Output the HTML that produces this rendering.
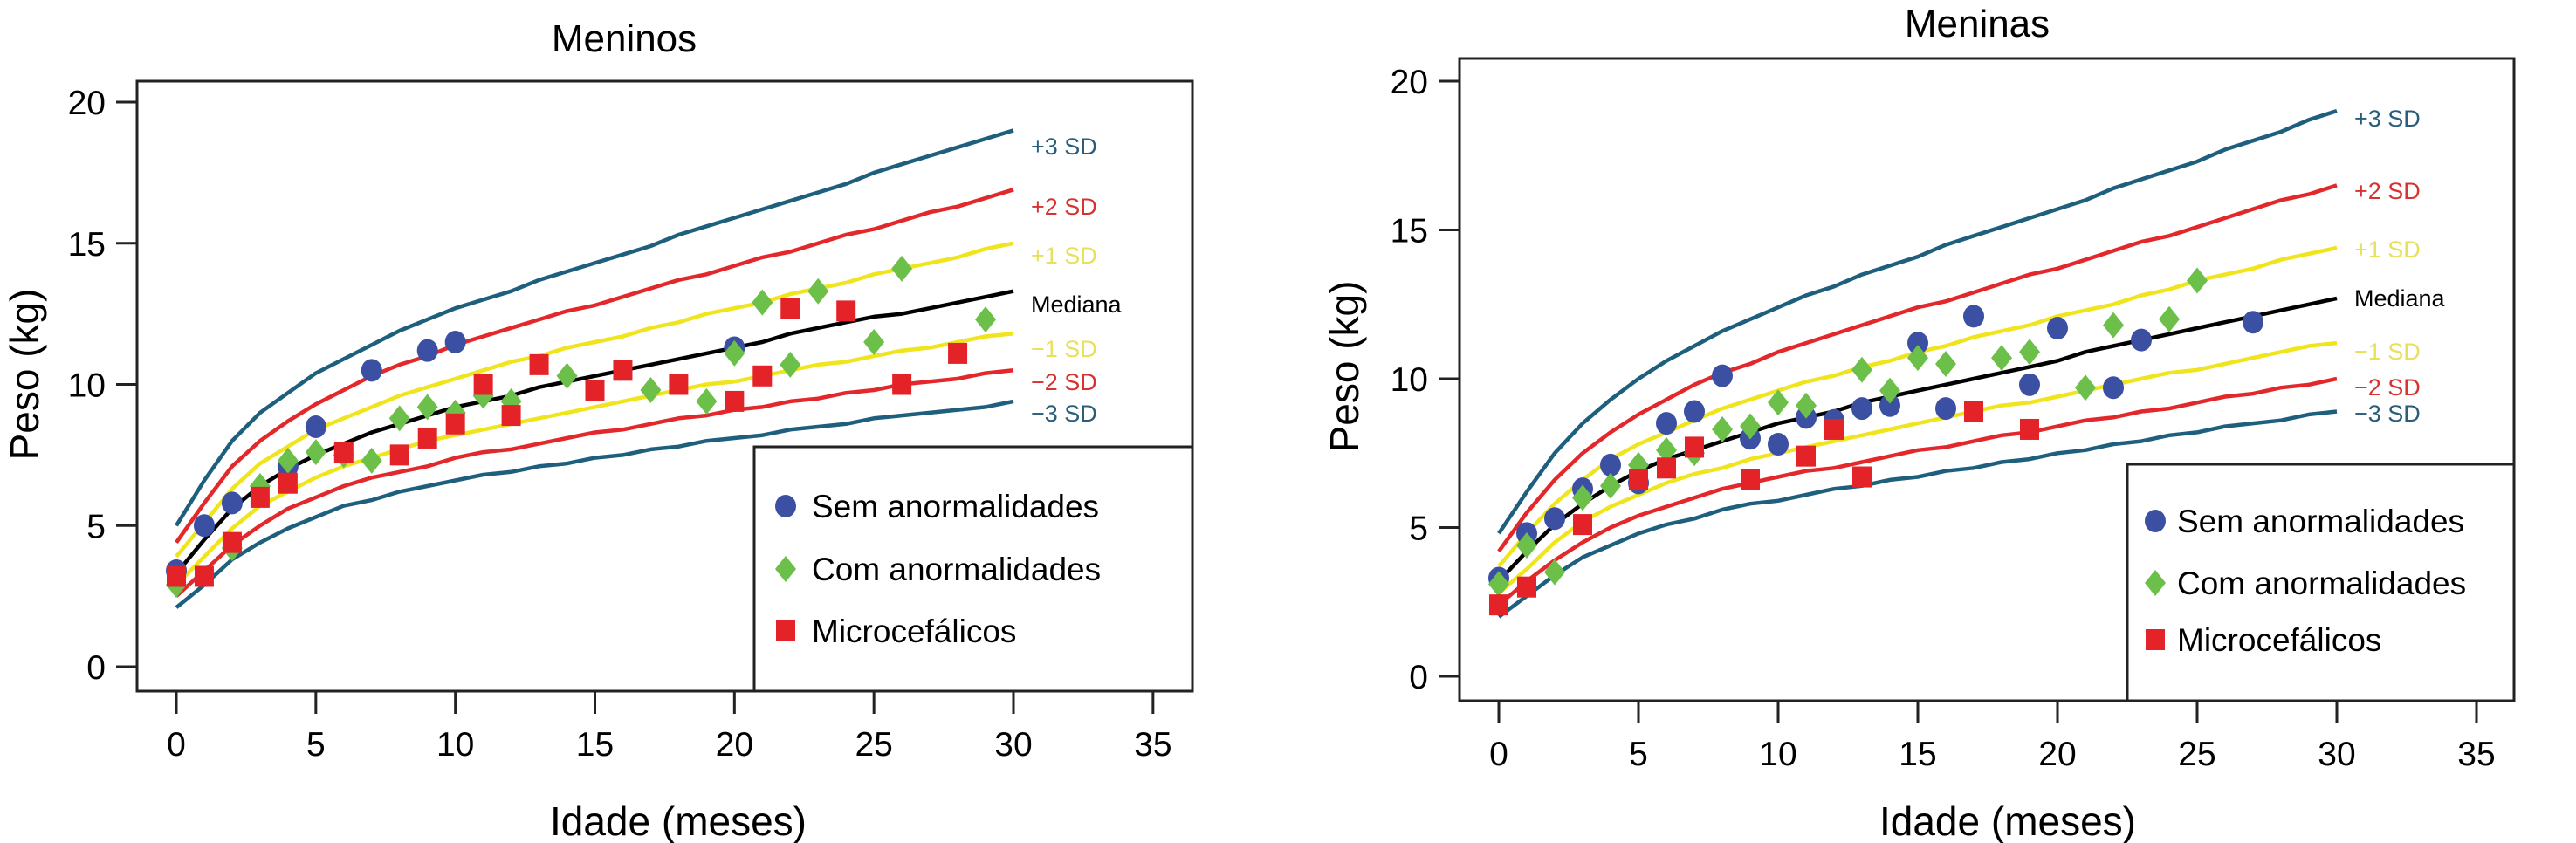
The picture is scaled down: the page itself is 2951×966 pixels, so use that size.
<!DOCTYPE html>
<html><head><meta charset="utf-8"><style>
html,body{margin:0;padding:0;background:#fff;}
svg{display:block;}
text{font-family:"Liberation Sans",sans-serif;}
</style></head><body>
<svg id="fig" width="2951" height="966" viewBox="0 0 2951 966" xmlns="http://www.w3.org/2000/svg"></svg>
<script>
// ---- data ----
const months = [];
for (let i = 0; i <= 30; i++) months.push(i);
const xTicks = [0,5,10,15,20,25,30,35];
const yTicks = [0,5,10,15,20];
const curveNames = ["+3 SD","+2 SD","+1 SD","Mediana","\u22121 SD","\u22122 SD","\u22123 SD"];
const curveKeys = ["p3","p2","p1","med","m1","m2","m3"];

const boysP3 = [5.0,6.6,8.0,9.0,9.7,10.4,10.9,11.4,11.9,12.3,12.7,13.0,13.3,13.7,14.0,14.3,14.6,14.9,15.3,15.6,15.9,16.2,16.5,16.8,17.1,17.5,17.8,18.1,18.4,18.7,19.0];
const boysP2 = [4.4,5.8,7.1,8.0,8.7,9.3,9.8,10.3,10.7,11.0,11.4,11.7,12.0,12.3,12.6,12.8,13.1,13.4,13.7,13.9,14.2,14.5,14.7,15.0,15.3,15.5,15.8,16.1,16.3,16.6,16.9];
const boysP1 = [3.9,5.1,6.3,7.2,7.8,8.4,8.8,9.2,9.6,9.9,10.2,10.5,10.8,11.0,11.3,11.5,11.7,12.0,12.2,12.5,12.7,12.9,13.2,13.4,13.6,13.9,14.1,14.3,14.5,14.8,15.0];
const boysMed = [3.3,4.5,5.6,6.4,7.0,7.5,7.9,8.3,8.6,8.9,9.2,9.4,9.6,9.9,10.1,10.3,10.5,10.7,10.9,11.1,11.3,11.5,11.8,12.0,12.2,12.4,12.5,12.7,12.9,13.1,13.3];
const boysM1 = [2.9,3.9,4.9,5.7,6.2,6.7,7.1,7.4,7.7,8.0,8.2,8.4,8.6,8.8,9.0,9.2,9.4,9.6,9.8,10.0,10.1,10.3,10.5,10.7,10.8,11.0,11.2,11.3,11.5,11.7,11.8];
const boysM2 = [2.5,3.4,4.3,5.0,5.6,6.0,6.4,6.7,6.9,7.1,7.4,7.6,7.7,7.9,8.1,8.3,8.4,8.6,8.8,8.9,9.1,9.2,9.4,9.5,9.7,9.8,10.0,10.1,10.2,10.4,10.5];
const boysM3 = [2.1,2.9,3.8,4.4,4.9,5.3,5.7,5.9,6.2,6.4,6.6,6.8,6.9,7.1,7.2,7.4,7.5,7.7,7.8,8.0,8.1,8.2,8.4,8.5,8.6,8.8,8.9,9.0,9.1,9.2,9.4];

const girlsP3 = [4.8,6.2,7.5,8.5,9.3,10.0,10.6,11.1,11.6,12.0,12.4,12.8,13.1,13.5,13.8,14.1,14.5,14.8,15.1,15.4,15.7,16.0,16.4,16.7,17.0,17.3,17.7,18.0,18.3,18.7,19.0];
const girlsP2 = [4.2,5.5,6.6,7.5,8.2,8.8,9.3,9.8,10.2,10.5,10.9,11.2,11.5,11.8,12.1,12.4,12.6,12.9,13.2,13.5,13.7,14.0,14.3,14.6,14.8,15.1,15.4,15.7,16.0,16.2,16.5];
const girlsP1 = [3.7,4.8,5.8,6.6,7.3,7.8,8.2,8.6,9.0,9.3,9.6,9.9,10.1,10.4,10.6,10.9,11.1,11.4,11.6,11.8,12.1,12.3,12.5,12.8,13.0,13.3,13.5,13.7,14.0,14.2,14.4];
const girlsMed = [3.2,4.2,5.1,5.8,6.4,6.9,7.3,7.6,7.9,8.2,8.5,8.7,8.9,9.2,9.4,9.6,9.8,10.0,10.2,10.4,10.6,10.9,11.1,11.3,11.5,11.7,11.9,12.1,12.3,12.5,12.7];
const girlsM1 = [2.8,3.6,4.5,5.2,5.7,6.1,6.5,6.8,7.0,7.3,7.5,7.7,7.9,8.1,8.3,8.5,8.7,8.9,9.1,9.2,9.4,9.6,9.8,10.0,10.2,10.3,10.5,10.7,10.9,11.1,11.2];
const girlsM2 = [2.4,3.2,3.9,4.5,5.0,5.4,5.7,6.0,6.3,6.5,6.7,6.9,7.0,7.2,7.4,7.6,7.7,7.9,8.1,8.2,8.4,8.6,8.7,8.9,9.0,9.2,9.4,9.5,9.7,9.8,10.0];
const girlsM3 = [2.0,2.7,3.4,4.0,4.4,4.8,5.1,5.3,5.6,5.8,5.9,6.1,6.3,6.4,6.6,6.7,6.9,7.0,7.2,7.3,7.5,7.6,7.8,7.9,8.1,8.2,8.4,8.5,8.6,8.8,8.9];

const boysSemX = [0,1,2,4,5,7,9,10,20];
const boysSemY = [3.4,5.0,5.8,7.1,8.5,10.5,11.2,11.5,11.3];
const boysComX = [0,2,3,4,5,6,7,8,9,10,11,12,14,17,19,20,21,22,23,25,26,29];
const boysComY = [2.9,4.2,6.4,7.3,7.6,7.5,7.3,8.8,9.2,9.0,9.6,9.4,10.3,9.8,9.4,11.1,12.9,10.7,13.3,11.5,14.1,12.3];
const boysMicX = [0,1,2,3,4,6,8,9,10,11,12,13,15,16,18,20,21,22,24,26,28];
const boysMicY = [3.2,3.2,4.4,6.0,6.5,7.6,7.5,8.1,8.6,10.0,8.9,10.7,9.8,10.5,10.0,9.4,10.3,12.7,12.6,10.0,11.1];

const girlsSemX = [0,1,2,3,4,5,6,7,8,9,10,11,12,13,14,15,16,17,19,20,22,23,27];
const girlsSemY = [3.3,4.8,5.3,6.3,7.1,6.5,8.5,8.9,10.1,8.0,7.8,8.7,8.6,9.0,9.1,11.2,9.0,12.1,9.8,11.7,9.7,11.3,11.9];
const girlsComX = [0,1,2,3,4,5,6,7,8,9,10,11,13,14,15,16,18,19,21,22,24,25];
const girlsComY = [3.1,4.4,3.5,6.0,6.4,7.1,7.6,7.5,8.3,8.4,9.2,9.1,10.3,9.6,10.7,10.5,10.7,10.9,9.7,11.8,12.0,13.3];
const girlsMicX = [0,1,3,5,6,7,9,11,12,13,17,19];
const girlsMicY = [2.4,3.0,5.1,6.6,7.0,7.7,6.6,7.4,8.3,6.7,8.9,8.3];

// ---- drawing ----
const NS = "http://www.w3.org/2000/svg";
const fig = document.getElementById("fig");
const curveColors = ["#1f5f7e","#e3282b","#f0e41c","#000000","#f0e41c","#e3282b","#1f5f7e"];
const labelColors = ["#2a5d7a","#d8312f","#e8e05a","#000000","#e8e05a","#d8312f","#2a5d7a"];
function mk(tag, attrs, parent) {
  const e = document.createElementNS(NS, tag);
  for (const k in attrs) e.setAttribute(k, attrs[k]);
  (parent || fig).appendChild(e);
  return e;
}
function drawChart(cfg) {
  const g = mk("g", {});
  
  
  const xS = v => cfg.x0 + (cfg.x30 - cfg.x0) * v / 30;
  const yS = v => cfg.y0 + (cfg.y20 - cfg.y0) * v / 20;
  let t = mk("text", {x: cfg.titleX, y: cfg.titleY, "font-size": 44, "text-anchor": "middle"}, g);
  t.textContent = cfg.title;
  
  
  const box = mk("rect", {x: cfg.L, y: cfg.T, width: cfg.R - cfg.L, height: cfg.B - cfg.T, fill: "none", stroke: "#222", "stroke-width": 3}, g);
  
  
  yTicks.forEach(v => {
    const y = yS(v);
    const l = mk("line", {x1: cfg.L - 24, x2: cfg.L, y1: y, y2: y, stroke: "#222", "stroke-width": 3}, g);
    
    
    const tx = mk("text", {x: cfg.L - 36, y: y + 14, "font-size": 39, "text-anchor": "end"}, g);
    tx.textContent = v;
    
    
  });
  xTicks.forEach(v => {
    const x = xS(v);
    const l = mk("line", {x1: x, x2: x, y1: cfg.B, y2: cfg.B + 26, stroke: "#222", "stroke-width": 3}, g);
    
    
    const tx = mk("text", {x: x, y: cfg.tickLabY, "font-size": 39, "text-anchor": "middle"}, g);
    tx.textContent = v;
    
    
  });
  t = mk("text", {x: cfg.xlabX, y: 957, "font-size": 46, "text-anchor": "middle"}, g);
  t.textContent = "Idade (meses)";
  
  
  t = mk("text", {x: 0, y: 0, "font-size": 46, "text-anchor": "middle", transform: "translate(" + cfg.ylabX + "," + cfg.ylabY + ") rotate(-90)"}, g);
  t.textContent = "Peso (kg)";
  
  
  cfg.curves.forEach((arr, i) => {
    const pts = months.map((m, j) => xS(m).toFixed(1) + "," + yS(arr[j]).toFixed(1)).join(" ");
    const pl = mk("polyline", {points: pts, fill: "none", stroke: curveColors[i], "stroke-width": 4.5, "stroke-linejoin": "round"}, g);
    
    
    const lb = mk("text", {x: cfg.labX, y: cfg.labY[i] + 9, "font-size": 27, fill: labelColors[i]}, g);
    lb.textContent = curveNames[i];
    
    
  });
  const lg = mk("rect", {x: cfg.legL, y: cfg.legT, width: cfg.R - cfg.legL, height: cfg.B - cfg.legT, fill: "#fff", stroke: "#222", "stroke-width": 3}, g);
  
  
  function circle(x, y, parent) { return mk("ellipse", {cx: x, cy: y, rx: 12, ry: 13, fill: "#3b4fa3"}, parent); }
  function diamond(x, y, parent) { return mk("polygon", {points: `${x},${y-15} ${x+12},${y} ${x},${y+15} ${x-12},${y}`, fill: "#6cc04a"}, parent); }
  function square(x, y, parent) { return mk("rect", {x: x - 11, y: y - 12, width: 22, height: 24, fill: "#e42328"}, parent); }
  cfg.sem[0].forEach((m, i) => { const e = circle(xS(m), yS(cfg.sem[1][i]), g);   });
  cfg.com[0].forEach((m, i) => { const e = diamond(xS(m), yS(cfg.com[1][i]), g);   });
  cfg.mic[0].forEach((m, i) => { const e = square(xS(m), yS(cfg.mic[1][i]), g);   });
  const legNames = ["Sem anormalidades", "Com anormalidades", "Microcef\u00e1licos"];
  const legFns = [circle, diamond, square];
  legNames.forEach((n, i) => {
    const y = cfg.legY[i];
    const mkr = legFns[i](cfg.legMX, y, g);
    
    
    const tx = mk("text", {x: cfg.legTX, y: y + 13, "font-size": 37}, g);
    tx.textContent = n;
    
    
  });
}
drawChart({name: "chart-meninos", title: "Meninos", titleX: 715, titleY: 59,
  L: 157, R: 1366, T: 93, B: 792, x0: 202, x30: 1161, y0: 764, y20: 117,
  tickLabY: 866, xlabX: 777, ylabX: 44, ylabY: 429,
  curves: [boysP3, boysP2, boysP1, boysMed, boysM1, boysM2, boysM3],
  labX: 1181, labY: [168, 237, 293, 349, 400, 438, 474],
  legL: 864, legT: 512, legMX: 900, legTX: 930, legY: [580, 652, 723],
  sem: [boysSemX, boysSemY], com: [boysComX, boysComY], mic: [boysMicX, boysMicY]});
drawChart({name: "chart-meninas", title: "Meninas", titleX: 2265, titleY: 42,
  L: 1672, R: 2880, T: 67, B: 803, x0: 1717, x30: 2677, y0: 775, y20: 93,
  tickLabY: 877, xlabX: 2300, ylabX: 1556, ylabY: 420,
  curves: [girlsP3, girlsP2, girlsP1, girlsMed, girlsM1, girlsM2, girlsM3],
  labX: 2697, labY: [136, 219, 286, 342, 403, 444, 474],
  legL: 2437, legT: 532, legMX: 2469, legTX: 2494, legY: [597, 668, 733],
  sem: [girlsSemX, girlsSemY], com: [girlsComX, girlsComY], mic: [girlsMicX, girlsMicY]});
</script>
</body></html>
